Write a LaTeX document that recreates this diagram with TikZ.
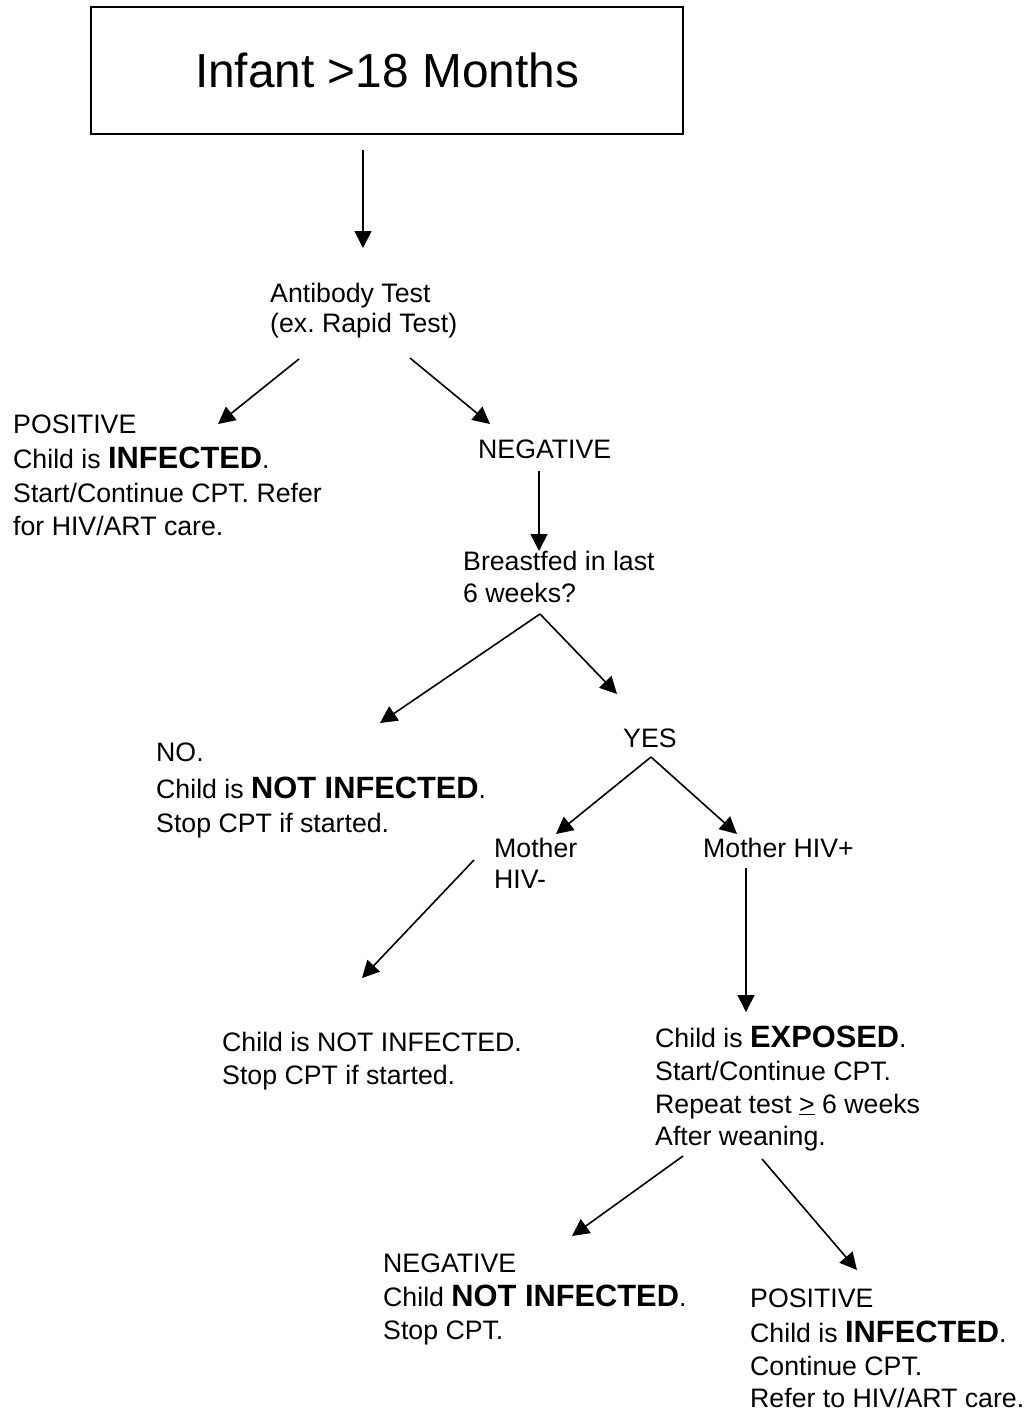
\documentclass[tikz,border=0pt]{standalone}
\usepackage{fontspec}
\setmainfont{Liberation Sans}
\usetikzlibrary{arrows.meta}
\frenchspacing
\tikzset{
  txt/.style={anchor=base west, inner sep=0pt, font=\fontsize{26.7}{30}\selectfont},
  arr/.style={line width=1.6pt, -{Triangle[length=17pt,width=17pt]}},
  titlebox/.style={draw, line width=2pt, minimum width=592pt, minimum height=127pt, inner sep=0pt, font=\fontsize{47.8}{54}\selectfont}
}
\newcommand{\bigb}[1]{{\fontsize{30.8}{34}\selectfont\bfseries #1}}
\begin{document}
\begin{tikzpicture}[x=1pt,y=-1pt]
\useasboundingbox (0,0) rectangle (1032,1414);
% title
\node[titlebox] (title) at (387,70.5) {Infant >18 Months};
% antibody test
\node[txt] (ab1) at (270,302) {Antibody Test};
\node[txt] (ab2) at (270,332) {(ex. Rapid Test)};
% positive (left)
\node[txt] (p1) at (13,433) {POSITIVE};
\node[txt] (p2) at (13,468) {Child is \bigb{INFECTED}.};
\node[txt] (p3) at (13,502) {Start/Continue CPT. Refer};
\node[txt] (p4) at (13,535) {for HIV/ART care.};
% negative
\node[txt] (neg) at (478,458) {NEGATIVE};
% breastfed
\node[txt] (bf1) at (463,570) {Breastfed in last};
\node[txt] (bf2) at (463,602) {6 weeks?};
% NO
\node[txt] (no1) at (156,761) {NO.};
\node[txt] (no2) at (156,798) {Child is \bigb{NOT INFECTED}.};
\node[txt] (no3) at (156,832) {Stop CPT if started.};
% YES
\node[txt] (yes) at (623,747) {YES};
% mothers
\node[txt] (mm1) at (494,857) {Mother};
\node[txt] (mm2) at (494,888) {HIV-};
\node[txt] (mp) at (703,857) {Mother HIV+};
% not infected (mother HIV-)
\node[txt] (ni1) at (222,1051) {Child is NOT INFECTED.};
\node[txt] (ni2) at (222,1084) {Stop CPT if started.};
% exposed
\node[txt] (ex1) at (655,1047) {Child is \bigb{EXPOSED}.};
\node[txt] (ex2) at (655,1080) {Start/Continue CPT.};
\node[txt] (ex3) at (655,1113) {Repeat test \underline{>} 6 weeks};
\node[txt] (ex4) at (655,1145) {After weaning.};
% final negative
\node[txt] (fn1) at (383,1272) {NEGATIVE};
\node[txt] (fn2) at (383,1306) {Child \bigb{NOT INFECTED}.};
\node[txt] (fn3) at (383,1339) {Stop CPT.};
% final positive
\node[txt] (fp1) at (750,1307) {POSITIVE};
\node[txt] (fp2) at (750,1342) {Child is \bigb{INFECTED}.};
\node[txt] (fp3) at (750,1375) {Continue CPT.};
\node[txt] (fp4) at (750,1407) {Refer to HIV/ART care.};
% connector coordinates
\coordinate (a1s) at (363,150);   \coordinate (a1e) at (363,248);
\coordinate (a2s) at (299,359);   \coordinate (a2e) at (218,424);
\coordinate (a3s) at (410,358);   \coordinate (a3e) at (490,424);
\coordinate (a4s) at (539,471);   \coordinate (a4e) at (539,551);
\coordinate (a5s) at (540,614);   \coordinate (a5e) at (380,723);
\coordinate (a6e) at (617,694);
\coordinate (a7s) at (651,757);   \coordinate (a7e) at (556,834);
\coordinate (a8e) at (737,834);
\coordinate (a9s) at (474,860);   \coordinate (a9e) at (362,978);
\coordinate (a10s) at (746,868);  \coordinate (a10e) at (746,1012);
\coordinate (a11s) at (683,1156); \coordinate (a11e) at (572,1236);
\coordinate (a12s) at (762,1159); \coordinate (a12e) at (857,1270);
% connectors
\draw[arr] (a1s) -- (a1e);
\draw[arr] (a2s) -- (a2e);
\draw[arr] (a3s) -- (a3e);
\draw[arr] (a4s) -- (a4e);
\draw[arr] (a5s) -- (a5e);
\draw[arr] (a5s) -- (a6e);
\draw[arr] (a7s) -- (a7e);
\draw[arr] (a7s) -- (a8e);
\draw[arr] (a9s) -- (a9e);
\draw[arr] (a10s) -- (a10e);
\draw[arr] (a11s) -- (a11e);
\draw[arr] (a12s) -- (a12e);
\end{tikzpicture}
\end{document}
